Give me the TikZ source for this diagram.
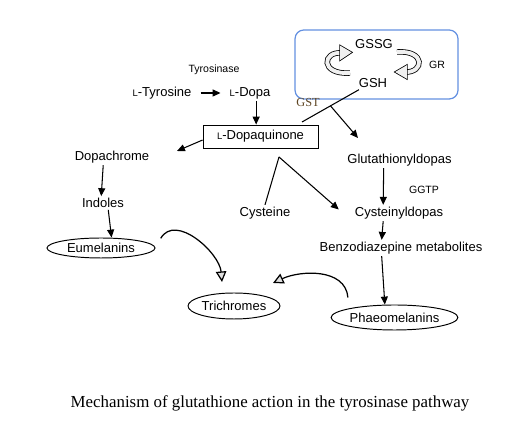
\documentclass[tikz,border=0pt]{standalone}
\usepackage{fontspec}
\setmainfont{Liberation Sans}
\newfontfamily\capfont{Liberation Serif}
\usetikzlibrary{arrows.meta,shapes.geometric}
\tikzset{
	lbl/.style={font=\fontsize{7.4}{8}\selectfont, inner sep=1pt},
	tiny/.style={font=\fontsize{6}{7}\selectfont, inner sep=1pt},
	oval/.style={ellipse, draw, line width=0.55pt, inner sep=0pt, font=\fontsize{7.4}{8}\selectfont},
	reac/.style={-{Triangle[length=4.5pt,width=4pt]}, line width=0.6pt},
	hollow/.style={-{Triangle[open,fill=gray!25,length=6pt,width=6pt]}, line width=0.7pt},
	ribbon/.style={double=gray!12, double distance=2.2pt, line width=0.45pt},
	cyclebox/.style={draw={rgb,255:red,100;green,145;blue,225}, rounded corners=5pt, line width=0.7pt,
			minimum width=3.26cm, minimum height=1.38cm}
}
\newcommand{\lsc}{{\fontsize{5.4}{6}\selectfont L}}

\begin{document}
\begin{tikzpicture}[x=0.02cm,y=0.02cm]
			\useasboundingbox (0,0) rectangle (510,425);

			\node[cyclebox] (cycle) at (376.5,360.5) {};
			\node[lbl] (gssg) at (374,381) {GSSG};
			\node[lbl] (gsh) at (373,342) {GSH};
			\node[tiny] (gr) at (437,360) {GR};
			\draw[ribbon] (350,352) .. controls (320,350) and (322,374) .. (342,372);
			\draw[ribbon, fill=gray!12] (342,368.5) -- (348,372.5) -- (342,376) -- cycle;
			\draw[ribbon] (397,373) .. controls (426,375) and (424,352) .. (405,353);
			\draw[ribbon, fill=gray!12] (405,349.5) -- (399,353) -- (405,356.5) -- cycle;

			\node[tiny] (tyrosinase) at (214,355) {Tyrosinase};
			\node[lbl] (tyrosine) at (162,332) {\lsc-Tyrosine};
			\node[lbl] (dopa) at (250,332) {\lsc-Dopa};
			\node[lbl, draw, line width=0.5pt, minimum width=2.3cm, minimum height=0.46cm] (dopaq) at (260.5,288.5) {\lsc-Dopaquinone};
			\node[font=\capfont\fontsize{7}{8}\selectfont, text={rgb,255:red,95;green,70;blue,35}, inner sep=1pt] (gst) at (308,323) {GST};

			\node[lbl] (dopachrome) at (112,268) {Dopachrome};
			\node[lbl] (indoles) at (103,222) {Indoles};
			\node[oval, minimum width=2.16cm, minimum height=0.4cm] (eumel) at (101,177) {Eumelanins};
			\node[oval, minimum width=1.84cm, minimum height=0.52cm] (trichr) at (234,119) {Trichromes};
			\node[oval, minimum width=2.5cm, minimum height=0.5cm] (phaeo) at (394.5,107.5) {Phaeomelanins};

			\node[lbl] (cysteine) at (265,212) {Cysteine};
			\node[lbl] (glutdopas) at (399.5,265) {Glutathionyldopas};
			\node[tiny] (ggtp) at (424,235) {GGTP};
			\node[lbl] (cysdopas) at (399,212) {Cysteinyldopas};
			\node[lbl] (benzo) at (401,177) {Benzodiazepine metabolites};

			\node[font=\capfont\fontsize{9.6}{11}\selectfont] (caption) at (270,22) {Mechanism of glutathione action in the tyrosinase pathway};

			\coordinate (gstcut) at (302,303);
			\coordinate (gstend) at (358,287);
			\coordinate (dcend) at (177,274);
			\coordinate (apex) at (279,268);
			\coordinate (eumtip) at (222,143);
			\coordinate (phatip) at (273,142);

			\draw[reac, shorten <=4pt, shorten >=4pt] (tyrosine) -- (dopa);
			\draw[reac] ([xshift=3.5pt]dopa.south) -- ([xshift=3.5pt]dopa.south |- dopaq.north);
			\draw[line width=0.6pt] ([xshift=-8pt]gsh.south) -- (gstcut) coordinate[pos=0.5] (gstjoin);
			\draw[reac] (gstjoin) -- (gstend);
			\draw[reac] ([yshift=-2pt]dopaq.west) -- (dcend);
			\draw[reac] ([xshift=-5pt]dopachrome.south) -- ([xshift=-1pt]indoles.north);
			\draw[reac] ([xshift=3pt]indoles.south) -- ([xshift=6pt]eumel.north);
			\draw[line width=0.6pt] (cysteine.north) -- (apex);
			\draw[reac] (apex) -- ([xshift=-8pt,yshift=2pt]cysdopas.west);
			\draw[reac] ([xshift=-9pt]glutdopas.south) -- ([xshift=-9pt]cysdopas.north);
			\draw[reac] ([xshift=-9pt]cysdopas.south) -- ([xshift=-11pt]benzo.north);
			\draw[reac] ([xshift=-11pt]benzo.south) -- ([xshift=-5.5pt]phaeo.north);
			\draw[hollow] ([xshift=3pt,yshift=5.5pt]eumel.east) to[out=60, in=95] (eumtip);
			\draw[hollow] ([xshift=-26.5pt,yshift=4pt]phaeo.north) to[out=95, in=25] (phatip);
		\end{tikzpicture}
\end{document}
